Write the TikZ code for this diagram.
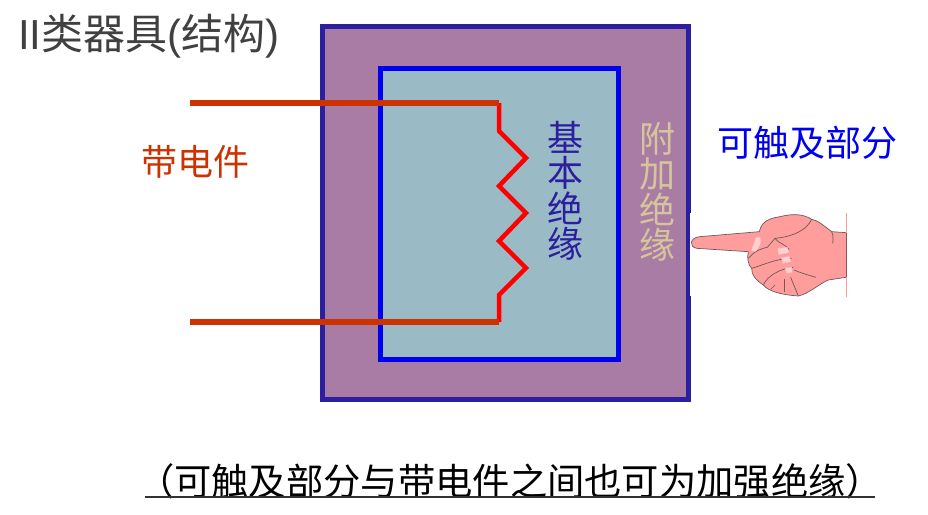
\documentclass[tikz,border=0pt]{standalone}
\usepackage{fontspec}
\setmainfont{Liberation Sans}
\newfontfamily\cjk{Noto Sans CJK SC}
\usetikzlibrary{positioning}
\definecolor{outerfill}{HTML}{A97CA6}
\definecolor{outerline}{HTML}{2B1FA0}
\definecolor{innerfill}{HTML}{9ABBC6}
\definecolor{innerline}{HTML}{0000F0}
\definecolor{leadcolor}{HTML}{CC3300}
\definecolor{tancolor}{HTML}{D6C59A}
\definecolor{handfill}{HTML}{FF9C9C}
\definecolor{handline}{HTML}{6E5A5A}
\tikzset{
  label36/.style={font=\cjk\fontsize{36}{35.5}\selectfont,align=center,inner sep=0pt},
  lead/.style={draw=leadcolor,line width=5.5pt},
  coil/.style={draw=red,line width=4.5pt,line join=miter},
  crease/.style={draw=handline,line width=0.7pt}
}
\begin{document}
\begin{tikzpicture}[x=1pt,y=-1pt]
      \useasboundingbox (0,0) rectangle (928,514);
      \node[draw=outerline,fill=outerfill,line width=5pt,minimum width=366pt,minimum height=373pt,inner sep=0pt] (outerbox) at (505,213) {};
      \node[draw=innerline,fill=innerfill,line width=5pt,minimum width=238pt,minimum height=291pt,inner sep=0pt] (innerbox) at (499.5,213.5) {};
      \fill[white] (689.5,213) rectangle (692,296);
      % leads and coil
      \coordinate (topfree) at (190,103);
      \coordinate (botfree) at (190,322);
      \coordinate (topend) at (499,103);
      \coordinate (botend) at (499,322);
      \path[coil] (topend) -- (499,131) -- (526,158) -- (499,186) -- (526,213) -- (499,241) -- (526,268) -- (499,295) -- (botend);
      \path[lead] (topfree) -- (topend) (botfree) -- (botend);
      % hand
      \begin{scope}[shift={(680,190)},x=0.3333pt,y=-0.3333pt]
        \path[fill=handfill,crease] (498,128) -- (455,125)
          .. controls (430,105) and (410,90) .. (395,88)
          .. controls (370,72) and (340,70) .. (300,80)
          .. controls (270,85) and (245,92) .. (238,125)
          -- (60,140) .. controls (30,142) and (25,170) .. (50,175)
          -- (205,185) .. controls (200,205) and (205,225) .. (215,235)
          .. controls (215,255) and (225,268) .. (250,285)
          .. controls (265,305) and (310,315) .. (355,318)
          .. controls (385,312) and (420,280) .. (445,270)
          -- (498,262);
        \path[crease] (455,125) .. controls (460,135) and (460,150) .. (458,160);
        \path[crease] (395,88) .. controls (380,120) and (340,140) .. (285,145) -- (262,172);
        \path[crease] (262,172) .. controls (245,175) and (225,182) .. (205,205);
        \path[crease] (285,145) .. controls (295,160) and (320,165) .. (328,178);
        \path[crease] (215,235) .. controls (250,225) and (290,205) .. (335,205);
        \path[crease] (250,285) .. controls (260,260) and (300,235) .. (340,232);
        \path[crease] (342,240) .. controls (365,250) and (385,255) .. (408,262);
        \path[crease] (332,262) -- (355,318);
        \path[crease] (312,268) -- (312,305);
        \path[crease] (285,285) -- (272,298);
        \path[fill=handfill!45!white,draw=handfill!70!white] (228,142) .. controls (224,155) and (218,170) .. (214,182) -- (226,184) .. controls (240,172) and (245,155) .. (240,142) -- cycle;
        \path[fill=handfill!45!white,draw=handfill!70!white] (293,175) -- (322,172) -- (326,188) -- (296,194) -- cycle;
        \path[fill=handfill!45!white,draw=handfill!70!white] (305,203) -- (328,199) -- (333,215) -- (308,220) -- cycle;
        \path[fill=handfill!45!white,draw=handfill!70!white] (316,234) -- (335,231) -- (336,247) -- (320,250) -- cycle;
        \draw[handfill,line width=0.8pt] (499,70) -- (499,320);
        \draw[black!45!handfill,line width=1pt] (499,128) -- (499,262);
      \end{scope}
      % labels
      \node[font=\fontsize{42}{42}\selectfont,anchor=west,inner sep=0pt,text=black!75] (title) at (18,36) {II{\cjk 类器具}({\cjk 结构})};
      \node[label36,text=leadcolor] (livepart) at (195.5,162) {带电件};
      \node[label36,text=outerline] (basicins) at (565.5,191) {基\\本\\绝\\缘};
      \node[label36,text=tancolor] (suppins) at (657.5,192) {附\\加\\绝\\缘};
      \node[label36,text=innerline] (touchpart) at (807,143) {可触及部分};
      \node[font=\cjk\fontsize{37.3}{37.3}\selectfont,inner sep=0pt] (note) at (510,481) {（可触及部分与带电件之间也可为加强绝缘）};
      \coordinate (ruleleft) at (145,497);
      \coordinate (ruleright) at (875,497);
      \draw[black!80,line width=2.5pt] (ruleleft) -- (ruleright);
\end{tikzpicture}
\end{document}
